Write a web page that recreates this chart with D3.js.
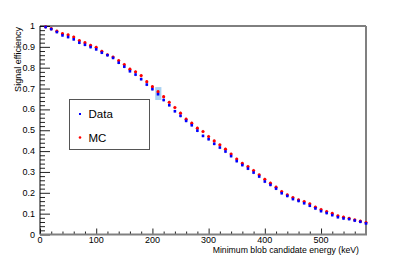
<!DOCTYPE html>
<html>
<head>
<meta charset="utf-8">
<script src="https://cdn.jsdelivr.net/npm/d3@7"></script>
<style>
    body { margin: 0; background: white; }
    text { font-family: "Liberation Sans", Arial, sans-serif; fill: black; }
</style>
</head>
<body>
<script>
const pageWidth = 407;
const pageHeight = 261;

// energy thresholds (keV)
const energies = [10, 20, 30, 40, 50, 60, 70, 80, 90, 100,
    110, 120, 130, 140, 150, 160, 170, 180, 190, 200,
    210, 220, 230, 240, 250, 260, 270, 280, 290, 300,
    310, 320, 330, 340, 350, 360, 370, 380, 390, 400,
    410, 420, 430, 440, 450, 460, 470, 480, 490, 500,
    510, 520, 530, 540, 550, 560, 570, 580];

const dataEff = [0.995, 0.985, 0.971, 0.955, 0.947, 0.936, 0.920, 0.910, 0.899, 0.888,
    0.872, 0.860, 0.847, 0.824, 0.805, 0.783, 0.767, 0.745, 0.719, 0.697,
    0.673, 0.645, 0.620, 0.591, 0.569, 0.545, 0.524, 0.498, 0.473, 0.457,
    0.435, 0.417, 0.398, 0.376, 0.352, 0.333, 0.316, 0.297, 0.278, 0.254,
    0.238, 0.220, 0.198, 0.185, 0.170, 0.161, 0.150, 0.138, 0.125, 0.112,
    0.103, 0.093, 0.083, 0.077, 0.074, 0.067, 0.061, 0.053];

const mcEff = [0.996, 0.987, 0.975, 0.963, 0.958, 0.947, 0.930, 0.920, 0.907, 0.898,
    0.879, 0.862, 0.851, 0.834, 0.815, 0.793, 0.780, 0.762, 0.733, 0.709,
    0.685, 0.661, 0.634, 0.609, 0.582, 0.553, 0.534, 0.510, 0.494, 0.470,
    0.449, 0.430, 0.409, 0.386, 0.362, 0.341, 0.326, 0.307, 0.286, 0.265,
    0.246, 0.227, 0.206, 0.190, 0.177, 0.166, 0.158, 0.147, 0.131, 0.120,
    0.110, 0.101, 0.090, 0.083, 0.077, 0.070, 0.064, 0.057];

const effError = 0.008;

// highlighted bin (keV range, efficiency range)
const highlightX = [205, 216];
const highlightY = [0.645, 0.707];

const xTicks = [0, 100, 200, 300, 400, 500];
const yTicks = [0, 0.1, 0.2, 0.3, 0.4, 0.5, 0.6, 0.7, 0.8, 0.9, 1];

const legendItems = ["Data", "MC"];
const colors = ["#0000ff", "#ff0000"];

function setup() {
    const frame = { left: 40, right: 366, top: 26, bottom: 234.5 };

    const svg = d3.select('body').append('svg')
        .attr("width", pageWidth)
        .attr("height", pageHeight);

    const x = d3.scaleLinear().domain([0, 580]).range([frame.left, frame.right]);
    const y = d3.scaleLinear().domain([0, 1]).range([frame.bottom, frame.top]);

    // highlight box
    svg.append("rect")
        .attr("x", x(highlightX[0]))
        .attr("y", y(highlightY[1]))
        .attr("width", x(highlightX[1]) - x(highlightX[0]))
        .attr("height", y(highlightY[0]) - y(highlightY[1]))
        .attr("fill", "#a9d2f3");

    // y axis: major ticks inside, minor ticks
    const yAxis = d3.axisRight(y)
        .tickValues(d3.range(0, 1.001, 0.02))
        .tickSize(5)
        .tickFormat("");
    const yg = svg.append("g").attr("transform", `translate(${frame.left},0)`).call(yAxis);
    yg.select(".domain").remove();
    yg.selectAll(".tick line").attr("stroke", "#222");
    yg.selectAll(".tick").filter(d => Math.abs(d * 10 - Math.round(d * 10)) < 1e-6)
        .select("line").attr("x2", 10);

    yTicks.forEach(t => {
        svg.append("text")
            .attr("x", 35)
            .attr("y", y(t) + 3)
            .attr("text-anchor", "end")
            .attr("font-size", 9)
            .text(d3.format("~g")(t));
    });

    // x axis
    const xAxis = d3.axisTop(x)
        .tickValues(d3.range(0, 581, 20))
        .tickSize(3)
        .tickFormat("");
    const xg = svg.append("g").attr("transform", `translate(0,${frame.bottom})`).call(xAxis);
    xg.select(".domain").remove();
    xg.selectAll(".tick line").attr("stroke", "#222");
    xg.selectAll(".tick").filter(d => d % 100 === 0).select("line").attr("y2", -6);

    xTicks.forEach(t => {
        svg.append("text")
            .attr("x", x(t))
            .attr("y", 242.5)
            .attr("text-anchor", "middle")
            .attr("font-size", 9)
            .text(t);
    });

    // frame
    svg.append("line").attr("x1", frame.left).attr("x2", frame.right)
        .attr("y1", frame.top).attr("y2", frame.top).attr("stroke", "black");
    svg.append("line").attr("x1", frame.left).attr("x2", frame.left)
        .attr("y1", frame.top).attr("y2", frame.bottom).attr("stroke", "black");
    svg.append("line").attr("x1", frame.left).attr("x2", frame.right + 1)
        .attr("y1", frame.bottom).attr("y2", frame.bottom).attr("stroke", "#808080").attr("stroke-width", 2);
    svg.append("line").attr("x1", frame.right).attr("x2", frame.right)
        .attr("y1", frame.top).attr("y2", frame.bottom).attr("stroke", "#808080").attr("stroke-width", 2);

    // axis titles
    svg.append("text")
        .attr("transform", "translate(21,27) rotate(-90)")
        .attr("text-anchor", "end")
        .attr("font-size", 9)
        .text("Signal efficiency");

    svg.append("text")
        .attr("x", 359)
        .attr("y", 252.5)
        .attr("text-anchor", "end")
        .attr("font-size", 8.7)
        .text("Minimum blob candidate energy (keV)");

    // error bars
    [mcEff, dataEff].forEach(series => {
        svg.append("g").selectAll("line")
            .data(series)
            .enter().append("line")
            .attr("x1", (d, i) => x(energies[i]))
            .attr("x2", (d, i) => x(energies[i]))
            .attr("y1", d => y(d + effError))
            .attr("y2", d => y(d - effError))
            .attr("stroke", "#777")
            .attr("stroke-opacity", 0.45)
            .attr("stroke-width", 1);
    });

    // MC markers (red dots)
    svg.append("g").selectAll("circle")
        .data(mcEff)
        .enter().append("circle")
        .attr("cx", (d, i) => x(energies[i]))
        .attr("cy", d => y(d))
        .attr("r", 1.6)
        .attr("fill", colors[1]);

    // Data markers (blue squares)
    svg.append("g").selectAll("rect")
        .data(dataEff)
        .enter().append("rect")
        .attr("x", (d, i) => x(energies[i]) - 1.3)
        .attr("y", d => y(d) - 1.3)
        .attr("width", 2.6)
        .attr("height", 2.6)
        .attr("fill", colors[0]);

    // legend
    const legend = svg.append("g");
    legend.append("rect")
        .attr("x", 69.5).attr("y", 99.5)
        .attr("width", 80).attr("height", 50)
        .attr("fill", "white")
        .attr("stroke", "#555");

    legendItems.forEach((name, i) => {
        const ly = 114 + i * 23.5;
        if (i === 0) {
            legend.append("rect")
                .attr("x", 79).attr("y", ly - 1)
                .attr("width", 2).attr("height", 2)
                .attr("fill", colors[i]);
        } else {
            legend.append("circle")
                .attr("cx", 80).attr("cy", ly)
                .attr("r", 1.3)
                .attr("fill", colors[i]);
        }
        legend.append("text")
            .attr("x", 88.5)
            .attr("y", ly + 4)
            .attr("font-size", 11.5)
            .text(name);
    });
}

setup();
</script>
</body>
</html>
